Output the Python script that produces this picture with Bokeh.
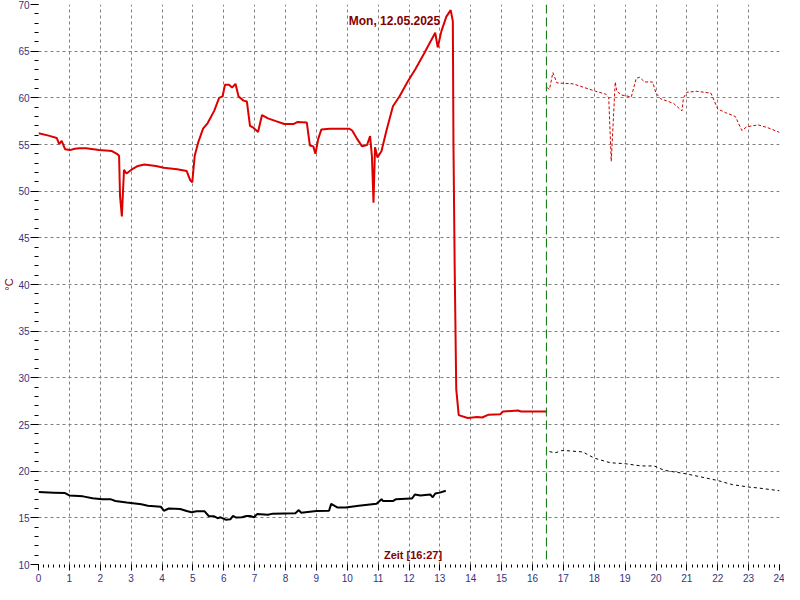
from bokeh.plotting import figure
from bokeh.models import Range1d, SingleIntervalTicker, FixedTicker, Span, Label
from bokeh.embed import file_html
from bokeh.resources import INLINE

# ---- data (hours of day, °C) ----
red_t = [0.0, 0.33, 0.59, 0.67, 0.75, 0.86, 1.02, 1.17, 1.33, 1.54, 1.96, 2.38, 2.54, 2.61, 2.64, 2.70,
         2.73, 2.77, 2.85, 3.01, 3.22, 3.43, 3.80, 4.06, 4.49, 4.80, 4.91, 4.98, 5.06, 5.17, 5.33, 5.48,
         5.69, 5.85, 5.96, 6.04, 6.17, 6.27, 6.38, 6.48, 6.64, 6.75, 6.85, 6.96, 7.11, 7.24, 7.43, 7.69,
         7.96, 8.27, 8.38, 8.69, 8.79, 8.90, 8.97, 9.06, 9.16, 9.43, 10.06, 10.16, 10.32, 10.48, 10.64,
         10.74, 10.80, 10.85, 10.90, 10.98, 11.11, 11.27, 11.48, 11.69, 11.95, 12.21, 12.48, 12.85, 12.93,
         13.05, 13.21, 13.35, 13.42, 13.44, 13.48, 13.53, 13.61, 13.90, 14.21, 14.37, 14.58, 14.95, 15.05,
         15.53, 15.63, 16.45]
red_v = [56.2, 55.95, 55.7, 55.05, 55.4, 54.5, 54.4, 54.55, 54.6, 54.6, 54.4, 54.3, 54.0, 53.8, 49.5, 47.3,
         49.5, 52.3, 51.9, 52.3, 52.7, 52.85, 52.7, 52.5, 52.35, 52.15, 51.2, 50.95, 53.8, 55.2, 56.7, 57.3,
         58.6, 60.0, 60.15, 61.4, 61.4, 61.1, 61.5, 60.15, 59.7, 59.6, 57.0, 56.8, 56.35, 58.15, 57.8, 57.5,
         57.2, 57.2, 57.4, 57.35, 54.9, 54.8, 54.0, 55.6, 56.6, 56.7, 56.7, 56.5, 55.6, 54.8, 54.95,
         55.9, 53.7, 48.75, 54.7, 53.6, 54.3, 56.5, 59.1, 60.15, 61.7, 63.1, 64.7, 66.97, 65.4,
         67.15, 68.7, 69.4, 68.2, 55.05, 41.75, 28.8, 26.0, 25.7, 25.8, 25.75, 26.05, 26.1, 26.4,
         26.5, 26.4, 26.4]

red_fc_t = [16.47, 16.55, 16.66, 16.79, 17.31, 18.05, 18.37, 18.47, 18.55, 18.68, 18.73, 18.89, 19.2,
            19.36, 19.47, 19.63, 19.89, 20.0, 20.15, 20.57, 20.84, 20.89, 21.0, 21.32, 21.78, 22.0,
            22.26, 22.57, 22.78, 22.94, 23.31, 23.62, 24.0]
red_fc_v = [61.1, 60.9, 62.7, 61.6, 61.5, 60.7, 60.4, 60.0, 53.2, 61.7, 60.7, 60.3, 60.1,
            62.1, 62.2, 61.7, 61.7, 60.5, 59.9, 59.4, 58.6, 60.0, 60.6, 60.7, 60.5, 58.8,
            58.4, 58.0, 56.5, 56.9, 57.1, 56.8, 56.3]

blk_t = [0.0, 0.5, 0.86, 1.0, 1.44, 1.75, 2.07, 2.33, 2.49, 2.86, 3.33, 3.54, 3.96, 4.06, 4.22, 4.59,
         4.8, 4.96, 5.12, 5.38, 5.52, 5.69, 5.8, 5.9, 6.06, 6.22, 6.3, 6.4, 6.59, 6.74, 6.85, 6.98,
         7.08, 7.43, 7.59, 8.32, 8.43, 8.51, 9.0, 9.41, 9.48, 9.69, 9.95, 10.37, 10.95, 11.11, 11.16,
         11.48, 11.58, 12.06, 12.1, 12.19, 12.37, 12.69, 12.77, 12.85, 13.0, 13.19]
blk_v = [17.76, 17.7, 17.65, 17.4, 17.3, 17.1, 16.99, 17.0, 16.8, 16.64, 16.46, 16.3, 16.2, 15.76, 16.0, 15.94,
         15.73, 15.6, 15.7, 15.7, 15.17, 15.17, 14.96, 15.06, 14.8, 14.86, 15.2, 15.03, 15.06, 15.2, 15.2, 15.06,
         15.4, 15.34, 15.45, 15.5, 15.83, 15.55, 15.73, 15.76, 16.5, 16.1, 16.1, 16.3, 16.5, 17.0, 16.8,
         16.8, 17.0, 17.07, 17.07, 17.5, 17.4, 17.5, 17.2, 17.6, 17.7, 17.9]

blk_fc_t = [16.55, 16.73, 16.95, 17.08, 17.63, 18.0, 18.52, 19.0, 19.52, 19.94, 20.26, 21.0, 22.0,
            22.47, 23.0, 23.31, 24.0]
blk_fc_v = [22.1, 21.96, 22.2, 22.2, 22.06, 21.4, 20.9, 20.8, 20.56, 20.56, 20.1, 19.7, 19.0,
            18.56, 18.3, 18.2, 17.9]

now_time = 16.45
title_text = "Mon, 12.05.2025"
x_label_text = "Zeit [16:27]"
y_label_text = "°C"

FONT = "Liberation Sans"
DARKRED = "#800000"
TICKCOL = "#333380"

p = figure(width=784, height=584, output_backend="svg", toolbar_location=None,
           x_range=Range1d(0, 24), y_range=Range1d(10, 70),
           min_border_left=33, min_border_right=5, min_border_top=4, min_border_bottom=20)
p.outline_line_color = None
p.background_fill_color = "white"
p.border_fill_color = "white"

p.xaxis.ticker = SingleIntervalTicker(interval=1, num_minor_ticks=6)
p.yaxis.ticker = SingleIntervalTicker(interval=5, num_minor_ticks=5)
for ax in (p.xaxis, p.yaxis):
    ax.axis_line_color = None
    ax.major_tick_line_color = "black"
    ax.minor_tick_line_color = "black"
    ax.major_tick_in = 0
    ax.minor_tick_in = 0
    ax.major_label_text_color = TICKCOL
    ax.major_label_text_font = FONT
    ax.major_label_text_font_size = "10px"
p.xaxis.major_tick_out = 6
p.xaxis.minor_tick_out = 3
p.xaxis.major_label_standoff = 3
p.yaxis.major_tick_out = 8
p.yaxis.minor_tick_out = 4
p.yaxis.major_label_standoff = 1

p.yaxis.axis_label = y_label_text
p.yaxis.axis_label_text_color = DARKRED
p.yaxis.axis_label_text_font = FONT
p.yaxis.axis_label_text_font_size = "11px"
p.yaxis.axis_label_text_font_style = "normal"
p.yaxis.axis_label_standoff = 0

p.xgrid.ticker = FixedTicker(ticks=list(range(1, 24)))
p.ygrid.ticker = FixedTicker(ticks=list(range(15, 70, 5)))
for g in (p.xgrid, p.ygrid):
    g.grid_line_color = "#808080"
    g.grid_line_dash = "3 3"
    g.grid_line_width = 1

p.line(blk_t, blk_v, line_color="black", line_width=2)
p.line(blk_fc_t, blk_fc_v, line_color="black", line_width=1, line_dash="3 3")
p.line(red_t, red_v, line_color="#DD0000", line_width=2)
p.line(red_fc_t, red_fc_v, line_color="#CC0000", line_width=1, line_dash="3 2")

p.add_layout(Span(location=now_time, dimension="height", line_color="#007000",
                  line_dash="9 4", line_width=1))

p.add_layout(Label(x=11.53, y=68.2, text=title_text, text_align="center",
                   text_baseline="alphabetic", text_color=DARKRED, text_font=FONT,
                   text_font_style="bold", text_font_size="12px"))
p.add_layout(Label(x=12.13, y=10.35, text=x_label_text, text_align="center",
                   text_baseline="bottom", text_color=DARKRED, text_font=FONT,
                   text_font_style="bold", text_font_size="11px"))

open("out.html", "w").write(file_html(p, INLINE))
